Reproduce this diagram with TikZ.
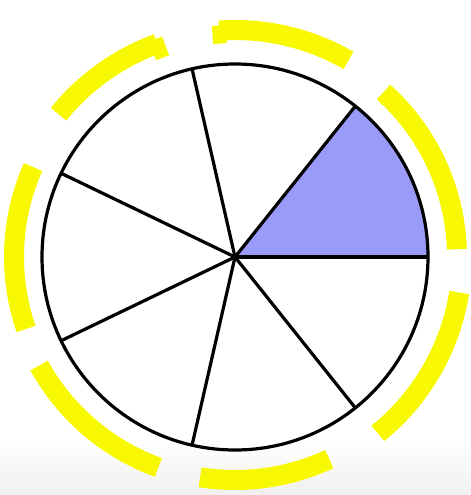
\documentclass[tikz,border=0pt]{standalone}
\usepackage{xcolor,tikz}
\usetikzlibrary{calc}
\definecolor{SectorBlue}{HTML}{9A9AF8}
\definecolor{MarkYellow}{HTML}{F8F800}

\begin{document}
\begin{tikzpicture}[scale=0.05,line join=round,
  spoke/.style={line width=1.6mm,black},
  hilite/.style={line width=10mm,MarkYellow}]
\useasboundingbox (-235,-238) rectangle (236,257);
\shade[top color=white,bottom color=gray!12] (-235,-185) rectangle (236,-238);
\coordinate (c) at (0,0);
% shaded seventh
\fill[SectorBlue] (c) -- (0:193) arc[start angle=0,end angle=360/7,radius=193] -- cycle;
% yellow marks round the circle
\foreach \a/\b/\r in {2/48/222, 60/94/227, 110/141/227, 156/199/221, 209/250/224, 261/295/223, 309/351/227}
  \draw[hilite] ($(c)+(\a:\r)$) arc[start angle=\a,end angle=\b,radius=\r];
% small hooks at some ends
\draw[hilite,line width=7mm] ($(c)+(94:232)$) -- ($(c)+(94:214)$);
\draw[hilite,line width=7mm] ($(c)+(110:232)$) -- ($(c)+(110:212)$);
% circle and spokes
\foreach \i in {0,...,6}
  \draw[spoke] (c) -- ($(c)+(\i*360/7:193)$);
\draw[spoke] (c) circle[radius=193];
\fill (c) circle[radius=3];
\end{tikzpicture}
\end{document}
